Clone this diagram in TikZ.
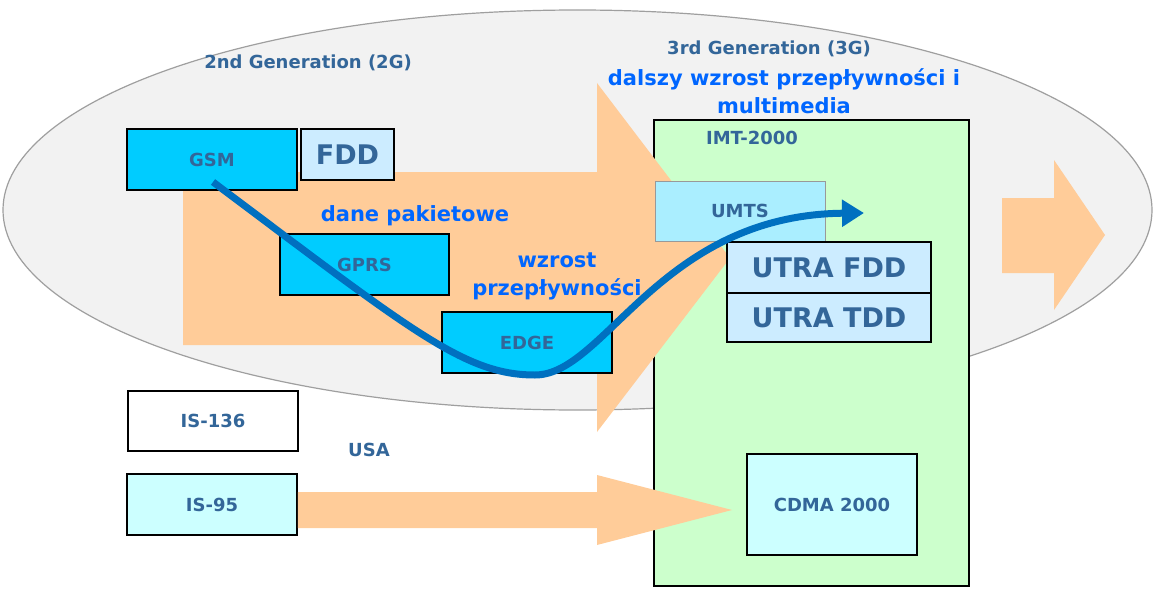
\documentclass[tikz,border=0pt]{standalone}
\usepackage{fontspec}
\setmainfont{DejaVu Sans}
\usetikzlibrary{arrows.meta}

\definecolor{labelblue}{HTML}{336699}
\definecolor{textblue}{HTML}{0066FF}
\definecolor{curveblue}{HTML}{0070C0}
\definecolor{peach}{HTML}{FFCC99}
\definecolor{skyblue}{HTML}{00CCFF}
\definecolor{paleblue}{HTML}{CCECFF}
\definecolor{palecyan}{HTML}{CCFFFF}
\definecolor{umtscyan}{HTML}{AAEEFF}
\definecolor{palegreen}{HTML}{CCFFCC}
\definecolor{ovalgray}{HTML}{F2F2F2}

\tikzset{
  sysbox/.style={draw=black, line width=1.5pt, inner sep=0pt},
  small/.style={text=labelblue, font=\fontsize{18}{21}\selectfont\bfseries},
  big/.style={text=labelblue, font=\fontsize{27}{30}\selectfont\bfseries},
  note/.style={text=textblue, font=\fontsize{21}{28}\selectfont\bfseries, align=center},
  migration/.style={curveblue, line width=7pt, -{Triangle[length=22pt,width=26pt]}}
}

\begin{document}
\begin{tikzpicture}[x=1pt,y=-1pt]
\useasboundingbox (0,0) rectangle (1157,602);

% background
\filldraw[fill=ovalgray, draw=gray!75, line width=1.2pt] (577.5,210) ellipse (574.5 and 200);
\filldraw[fill=palegreen, draw=black, line width=1.5pt] (654,120) rectangle (969,586);
\fill[peach] (183,172) -- (597,172) -- (597,83) -- (730,258) -- (597,432) -- (597,345) -- (183,345) -- cycle;
\fill[peach] (1002,198) -- (1054,198) -- (1054,160) -- (1105,235) -- (1054,310) -- (1054,273) -- (1002,273) -- cycle;

% titles
\node[small] (gen2) at (308,63) {2nd Generation (2G)};
\node[small] (gen3) at (769,49) {3rd Generation (3G)};
\node[note] (multi) at (784,91) {dalszy wzrost przepływności i\\multimedia};
\node[small] (imt) at (752,138) {IMT-2000};

% 2G systems
\node[sysbox, fill=skyblue, minimum width=170pt, minimum height=61pt] (gsm) at (212,159.5) {};
\node[small] at (gsm) {GSM};
\node[sysbox, fill=paleblue, minimum width=93pt, minimum height=51pt, big] (fdd) at (347.5,154.5) {FDD};
\node[sysbox, fill=skyblue, minimum width=169pt, minimum height=61pt, small] (gprs) at (364.5,264.5) {GPRS};
\node[sysbox, fill=skyblue, minimum width=170pt, minimum height=61pt, small] (edge) at (527,342.5) {EDGE};
\node[sysbox, fill=white, minimum width=170pt, minimum height=60pt, small] (is136) at (213,421) {IS-136};
\node[sysbox, fill=palecyan, minimum width=170pt, minimum height=61pt, small] (is95) at (212,504.5) {IS-95};
\node[small] (usa) at (369,450) {USA};

\node[note] (packet) at (415,216) {dane pakietowe};
\node[note] (rate) at (557,276) {wzrost\\przepływności};

% 3G systems
\node[sysbox, draw=gray!80, line width=1pt, fill=umtscyan, minimum width=170pt, minimum height=60pt, small] (umts) at (740,211) {UMTS};
\node[sysbox, fill=paleblue, minimum width=204pt, minimum height=51pt, big] (utrafdd) at (829,267.5) {UTRA FDD};
\node[sysbox, fill=paleblue, minimum width=204pt, minimum height=49pt, big] (utratdd) at (829,317.5) {UTRA TDD};
\node[sysbox, fill=palecyan, minimum width=170pt, minimum height=101pt, small] (cdma) at (832,504.5) {CDMA 2000};

% IS-95 towards CDMA 2000
\fill[peach] (is95.east |- 0,492) -- (597,492) -- (597,475) -- (732,510) -- (597,545) -- (597,528) -- (is95.east |- 0,528) -- cycle;

% GSM migration path
\coordinate (curvestart) at (213,182);
\coordinate (curveend) at (864,213);
\draw[migration] (curvestart) .. controls (413,332) and (465,375) .. (535,375)
  .. controls (605,375) and (660,215) .. (curveend);

\end{tikzpicture}
\end{document}
